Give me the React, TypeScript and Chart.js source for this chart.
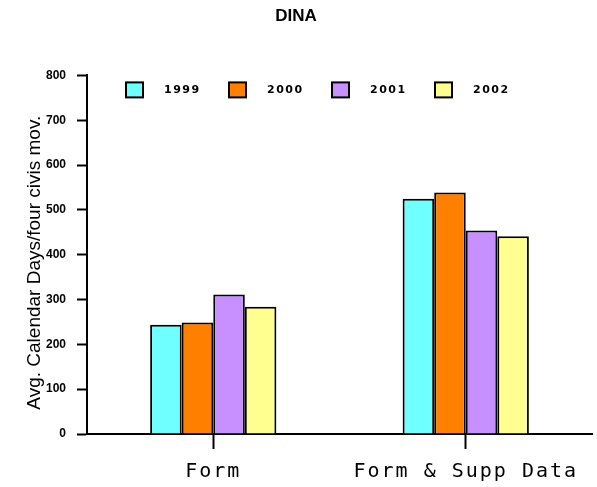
import React, { useEffect, useRef } from "react";
import { Chart, registerables } from "chart.js";

Chart.register(...registerables);

const categories = ["Form", "Form & Supp Data"];
const seriesLabels = ["1999", "2000", "2001", "2002"];
const values1999 = [244, 525];
const values2000 = [249, 539];
const values2001 = [311, 454];
const values2002 = [284, 441];
const seriesColors = ["#70FFFF", "#FF8000", "#C890FF", "#FFFF90"];
const yTickMax = 800;
const yTickStep = 100;
const chartTitle = "DINA";
const yAxisTitle = "Avg. Calendar Days/four civis mov.";

const legendPlugin = {
  id: "customLegend",
  afterDraw(chart: any) {
    const ctx = chart.ctx;
    const area = chart.chartArea;
    const startX = area.left + 39;
    const y = area.top + 7;
    const step = 103;
    ctx.save();
    chart.data.datasets.forEach((ds: any, i: number) => {
      const x = startX + i * step;
      ctx.fillStyle = ds.backgroundColor;
      ctx.fillRect(x, y, 17, 15);
      ctx.lineWidth = 2;
      ctx.strokeStyle = "#000";
      ctx.strokeRect(x, y, 17, 15);
      ctx.fillStyle = "#000";
      ctx.font = "bold 11px 'DejaVu Sans'";
      ctx.textBaseline = "middle";
      ctx.textAlign = "left";
      (ctx as any).letterSpacing = "1.5px";
      ctx.fillText(ds.label, x + 38, y + 8);
      (ctx as any).letterSpacing = "0px";
    });
    ctx.restore();
  },
};

const axisTweakPlugin = {
  id: "axisTweaks",
  beforeDraw(chart: any) {
    const s = chart.scales.x;
    if (s && !s.__patched) {
      const orig = s.drawLabels.bind(s);
      s.drawLabels = (ca: any) => {
        const ctx = s.ctx;
        const prev = (ctx as any).letterSpacing;
        (ctx as any).letterSpacing = "2px";
        orig(ca);
        (ctx as any).letterSpacing = prev || "0px";
      };
      s.__patched = true;
    }
    const y = chart.scales.y;
    if (y && !y.__patched) {
      const origT = y.drawTitle.bind(y);
      y.drawTitle = () => {
        const ctx = y.ctx;
        ctx.save();
        ctx.translate(0, 8);
        origT();
        ctx.restore();
      };
      y.__patched = true;
    }
  },
};

export default function App() {
  const ref = useRef<HTMLCanvasElement>(null);
  useEffect(() => {
    if (!ref.current) return;
    const seriesValues = [values1999, values2000, values2001, values2002];
    const chart = new Chart(ref.current, {
      type: "bar",
      data: {
        labels: categories,
        datasets: seriesLabels.map((label, i) => ({
          label,
          data: seriesValues[i],
          backgroundColor: seriesColors[i],
          borderColor: "#000",
          borderWidth: 2,
          borderSkipped: "bottom",
          categoryPercentage: 0.5,
          barPercentage: 1.0,
        })),
      },
      options: {
        responsive: false,
        animation: false,
        layout: { padding: { top: 0, left: 0, right: 5, bottom: 0 } },
        plugins: {
          legend: { display: false },
          tooltip: { enabled: false },
          title: {
            display: true,
            text: chartTitle,
            color: "#000",
            font: { family: "'Liberation Sans'", size: 17, weight: "bold" },
            padding: { top: 6, bottom: 49 },
          },
        },
        scales: {
          x: {
            afterFit: (scale: any) => {
              scale.height = 53;
            },
            grid: {
              display: true,
              drawOnChartArea: false,
              drawTicks: true,
              offset: false,
              tickLength: 15,
              tickWidth: 2,
              tickColor: "#000",
            },
            border: { display: true, color: "#000", width: 2 },
            ticks: {
              color: "#000",
              padding: 11,
              font: { family: "'DejaVu Sans Mono'", size: 20 },
              maxRotation: 0,
            },
          },
          y: {
            min: 0,
            max: yTickMax,
            afterFit: (scale: any) => {
              scale.width = 87;
            },
            grid: {
              display: true,
              drawOnChartArea: false,
              drawTicks: true,
              tickLength: 10,
              tickWidth: 2,
              tickColor: "#000",
            },
            border: { display: true, color: "#000", width: 2 },
            ticks: {
              stepSize: yTickStep,
              color: "#000",
              padding: 11,
              font: { family: "'Liberation Sans'", size: 12, weight: "bold" },
            },
            title: {
              display: true,
              text: yAxisTitle,
              color: "#000",
              font: { family: "'Liberation Sans'", size: 19 },
              padding: { top: 23, bottom: 0 },
            },
          },
        },
      },
      plugins: [legendPlugin, axisTweakPlugin],
    });
    return () => chart.destroy();
  }, []);
  return (
    <div style={{ position: "fixed", left: 0, top: 0, width: 597, height: 487, background: "#fff" }}>
      <canvas ref={ref} width={597} height={487} />
    </div>
  );
}
